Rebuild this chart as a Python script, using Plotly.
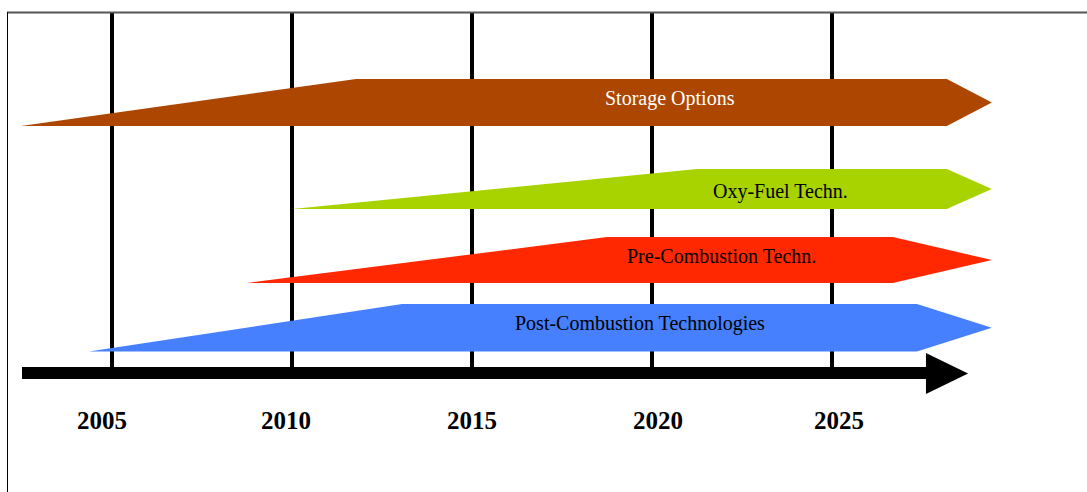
import plotly.graph_objects as go

# ---- data ----
years = [2005, 2010, 2015, 2020, 2025]
year_labels = ["2005", "2010", "2015", "2020", "2025"]

technologies = ["Storage Options", "Oxy-Fuel Techn.", "Pre-Combustion Techn.", "Post-Combustion Technologies"]
start_year = [2002.47, 2010.0, 2008.75, 2004.36]      # thin left tip
full_year = [2011.78, 2021.25, 2018.75, 2013.06]       # band reaches full width
head_year = [2028.19, 2028.19, 2026.69, 2027.36]       # arrow head begins
tip_year = [2029.44, 2029.44, 2029.44, 2029.44]        # arrow tip
label_year = [2020.5, 2023.56, 2021.94, 2019.68]

timeline_start = 2002.5
timeline_head = 2027.61
timeline_tip = 2028.78

# ---- styles / layout ----
colors = ["#AD4600", "#A8D300", "#FF2800", "#4680FF"]
text_colors = ["white", "black", "black", "black"]
band_top = [79, 169, 237, 304]
band_bot = [126, 209, 283, 351.5]
text_yshift = [4, -2, 4, 4]

W, H = 1087, 492
px_per_year = 36.0
x0 = 2005 - 112 / px_per_year
x1 = x0 + W / px_per_year

fig = go.Figure()

# vertical year lines
for yr in years:
    fig.add_trace(go.Scatter(x=[yr, yr], y=[12, 368], mode="lines",
                             line=dict(color="black", width=4), hoverinfo="skip", showlegend=False))

# technology bands
for i, name in enumerate(technologies):
    t, b = band_top[i], band_bot[i]
    m = (t + b) / 2
    xs = [start_year[i], full_year[i], head_year[i], tip_year[i], head_year[i], start_year[i]]
    ys = [b, t, t, m, b, b]
    fig.add_trace(go.Scatter(x=xs, y=ys, mode="lines", fill="toself", fillcolor=colors[i],
                             line=dict(width=0, color=colors[i]), hoverinfo="skip", showlegend=False))
    fig.add_annotation(x=label_year[i], y=m, text=name, showarrow=False, yshift=text_yshift[i],
                       font=dict(family="Liberation Serif", size=20, color=text_colors[i]))

# timeline arrow
fig.add_trace(go.Scatter(
    x=[timeline_start, timeline_head, timeline_head, timeline_tip, timeline_head, timeline_head, timeline_start, timeline_start],
    y=[367, 367, 353, 373.5, 394, 379, 379, 367],
    mode="lines", fill="toself", fillcolor="black", line=dict(width=0, color="black"),
    hoverinfo="skip", showlegend=False))

# year labels
label_shift = [-10, -6, 0, 6, 7]
for yr, lab, sh in zip(years, year_labels, label_shift):
    fig.add_annotation(x=yr, y=420, text="<b>" + lab + "</b>", showarrow=False, xshift=sh,
                       font=dict(family="Liberation Serif", size=25, color="black"))

# frame (top and left borders)
fig.add_shape(type="line", xref="paper", yref="paper", x0=7 / W, x1=1, y0=1 - 12.5 / H, y1=1 - 12.5 / H,
              line=dict(color="#555555", width=2))
fig.add_shape(type="line", xref="paper", yref="paper", x0=7.5 / W, x1=7.5 / W, y0=0, y1=1 - 12 / H,
              line=dict(color="black", width=1))

fig.update_layout(
    width=W, height=H,
    margin=dict(l=0, r=0, t=0, b=0),
    paper_bgcolor="white", plot_bgcolor="white",
    xaxis=dict(range=[x0, x1], visible=False, fixedrange=True),
    yaxis=dict(range=[H, 0], visible=False, fixedrange=True),
    showlegend=False,
)

fig.write_html("out.html", config={"displayModeBar": False},
               post_script="document.body.style.margin='0';document.body.style.overflow='hidden';")
